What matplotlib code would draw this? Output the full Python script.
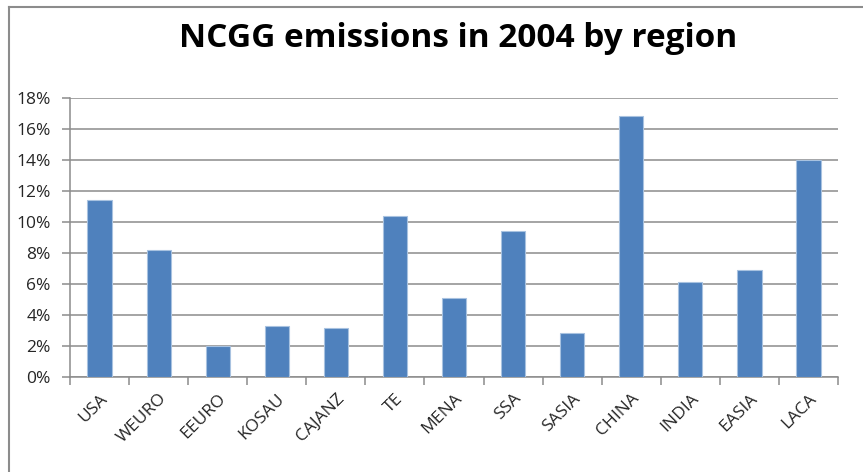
import numpy as np
import matplotlib
matplotlib.use("Agg")
import matplotlib.pyplot as plt
from matplotlib.ticker import FuncFormatter
from matplotlib.transforms import ScaledTranslation

# NCGG emissions share by region, 2004 (percent)
regions = ["USA", "WEURO", "EEURO", "KOSAU", "CAJANZ", "TE", "MENA",
           "SSA", "SASIA", "CHINA", "INDIA", "EASIA", "LACA"]
shares = [11.4, 8.2, 1.95, 3.25, 3.15, 10.4, 5.1, 9.4, 2.8, 16.8, 6.1, 6.9, 14.0]

plt.rcParams['font.family'] = ['Open Sans', 'DejaVu Sans']

fig = plt.figure(figsize=(8.63, 4.72), dpi=100)
ax = fig.add_axes([0.0811, 0.2019, 0.890, 0.5911])

x = np.arange(len(regions))
ax.bar(x, shares, width=0.41, color="#4F81BD", edgecolor="#a8c2e0",
       linewidth=0.8, zorder=3)

ax.set_xlim(-0.5, len(regions) - 0.5)
ax.set_ylim(0, 18)
ax.set_yticks(np.arange(0, 19, 2))
ax.yaxis.set_major_formatter(FuncFormatter(lambda v, p: "%d%%" % v))
ax.yaxis.grid(True, color="#8c8c8c", linewidth=1.1, zorder=0)

# category boundaries carry the tick marks, labels sit at the bar centres
ax.set_xticks(np.arange(-0.5, len(regions), 1.0))
ax.set_xticklabels([])
ax.set_xticks(x, minor=True)
ax.set_xticklabels(regions, minor=True, rotation=45, ha="right",
                   rotation_mode="anchor", fontsize=12.5, color="#262626")
shift = ScaledTranslation(10 / 100, 0, fig.dpi_scale_trans)
for lab in ax.get_xticklabels(minor=True):
    lab.set_transform(lab.get_transform() + shift)
ax.tick_params(axis="x", which="minor", length=0, pad=10)
ax.tick_params(axis="x", which="major", length=6, width=1.1, color="#8c8c8c")
ax.tick_params(axis="y", length=6, width=1.1, color="#8c8c8c",
               labelsize=12.5, labelcolor="#262626", pad=8)

for side in ["top", "right"]:
    ax.spines[side].set_visible(False)
for side in ["left", "bottom"]:
    ax.spines[side].set_color("#8c8c8c")
    ax.spines[side].set_linewidth(1.1)

fig.text(0.531, 0.918, "NCGG emissions in 2004 by region", ha="center",
         va="center", fontsize=24, fontweight="bold", color="black")

# chart frame
fig.add_artist(plt.Line2D([9 / 863, 9 / 863], [0, 1 - 6.5 / 472],
                          transform=fig.transFigure, color="#8c8c8c", linewidth=1.5))
fig.add_artist(plt.Line2D([9 / 863, 1], [1 - 6.5 / 472, 1 - 6.5 / 472],
                          transform=fig.transFigure, color="#8c8c8c", linewidth=1.5))

fig.savefig("out.png", dpi=100)
